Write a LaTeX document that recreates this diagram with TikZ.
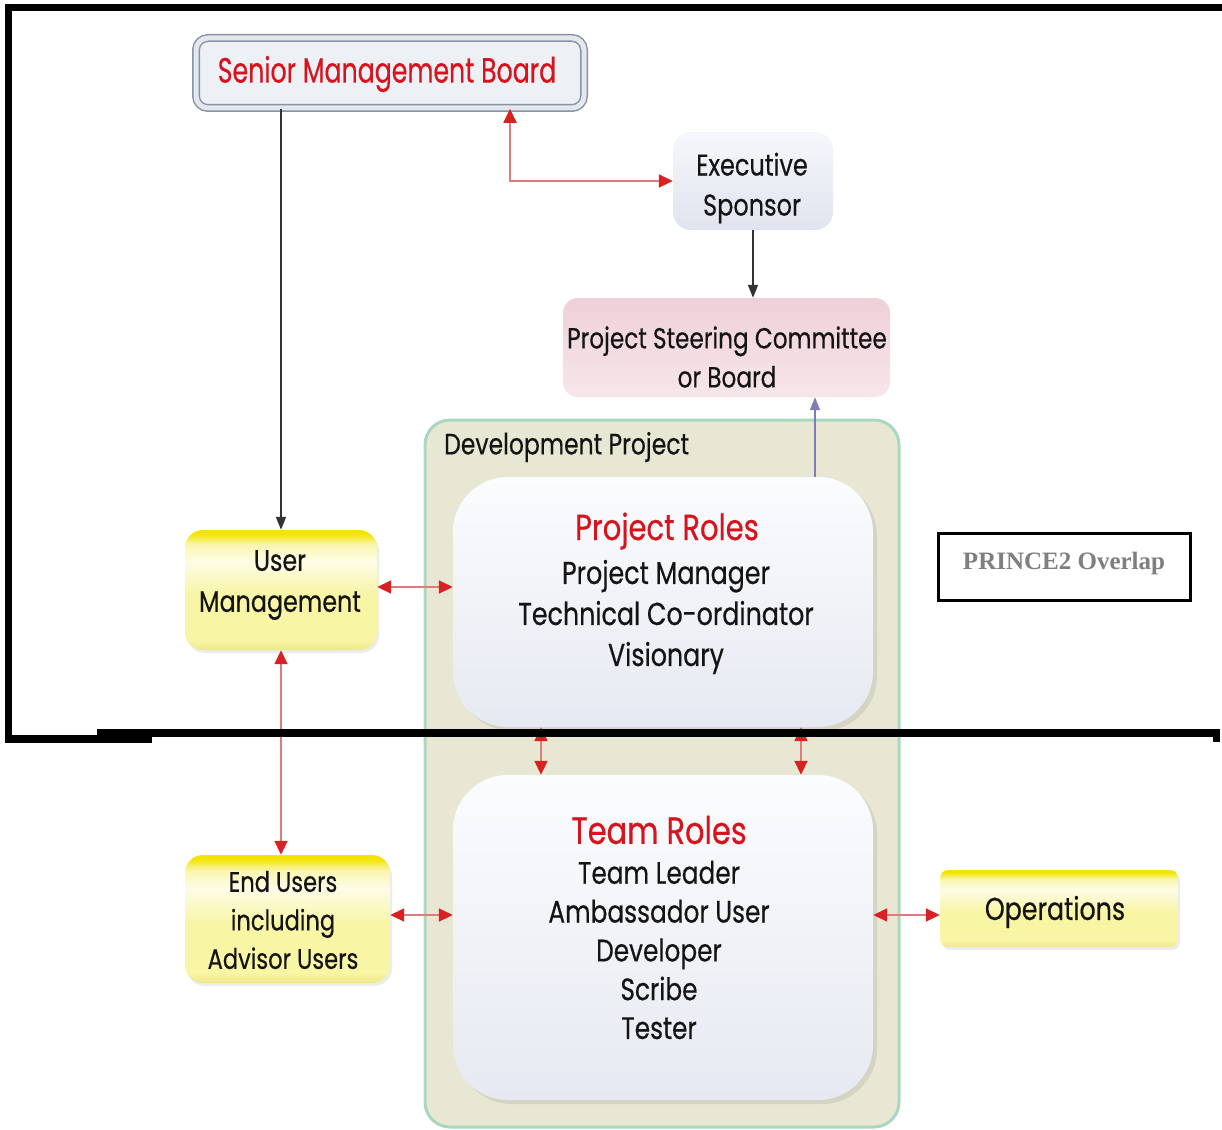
\documentclass[tikz,border=0pt]{standalone}
\usepackage{fontspec}
\setmainfont{Poppins}[FakeBold=0.5]
\newfontfamily\prfont{Liberation Serif}
\usetikzlibrary{arrows.meta,shadows}
\definecolor{redtxt}{HTML}{D7141E}
\definecolor{redline}{HTML}{E07B7B}
\definecolor{redtip}{HTML}{D62222}
\definecolor{devfill}{HTML}{E8E7D3}
\definecolor{devline}{HTML}{A9D8BF}
\definecolor{purp}{HTML}{7F7DB5}
\definecolor{smbline}{HTML}{8A93A6}
\definecolor{smbband}{HTML}{E3E8EE}
\definecolor{smbfill}{HTML}{EDF1F5}
\definecolor{yelA}{HTML}{F3E400}
\definecolor{yelB}{HTML}{FDFCE6}
\definecolor{yelB2}{HTML}{FAF6B0}
\definecolor{yelC}{HTML}{F8F5A4}
\definecolor{yelD}{HTML}{EDE88A}
\definecolor{pinkA}{HTML}{EFD0D8}
\definecolor{pinkB}{HTML}{F6E6EA}
\definecolor{esA}{HTML}{F5F7FB}
\definecolor{esB}{HTML}{E0E4EE}
\definecolor{roleA}{HTML}{FBFCFE}
\definecolor{roleB}{HTML}{E6E9F1}
\definecolor{txtgray}{HTML}{7F7F7F}
\pgfdeclareverticalshading{yelsh}{100bp}{color(0bp)=(yelD); color(25bp)=(yelD); color(29bp)=(yelC); color(48bp)=(yelC); color(62bp)=(yelB); color(69bp)=(yelB2); color(73.5bp)=(yelA); color(100bp)=(yelA)}
\newcommand\myfs[2]{\fontsize{#1}{#2}\selectfont}
\newcommand\vs[1]{\scalebox{1}[1.25]{#1}}
\newcommand\vsb[1]{\scalebox{0.97}[1.35]{#1}}
\begin{document}
\begin{tikzpicture}[x=1pt,y=-1pt,
  txt/.style={inner sep=0pt, text=black!92, font=\myfs{24}{40}, align=center},
  yelbox/.style={rounded corners=18pt, shading=yelsh, draw=none,
     drop shadow={opacity=0.15, shadow xshift=2pt, shadow yshift=-3pt}},
  rolebox/.style={rounded corners=55pt, top color=roleA, bottom color=roleB, draw=none,
     drop shadow={opacity=0.18, shadow xshift=4pt, shadow yshift=-4pt}},
  redarr/.style={draw=redline, line width=1.8pt,
     {Triangle[length=14pt,width=13pt,color=redtip]}-{Triangle[length=14pt,width=13pt,color=redtip]}},
  blkarr/.style={draw=black!80, line width=1.5pt, -{Triangle[length=13pt,width=10pt]}},
  purarr/.style={draw=purp, line width=1.5pt, -{Triangle[length=13pt,width=10pt]}},
  framefill/.style={fill=black}
]
\useasboundingbox (0,0) rectangle (1222,1129);
\fill[white] (0,0) rectangle (1222,1129);

% Senior Management Board
\node[draw=smbline, line width=1.5pt, double=smbband, double distance=5pt, fill=smbfill,
      rounded corners=12pt, minimum width=388pt, minimum height=70pt] (smb) at (390,73) {};
\node[txt, text=redtxt, font=\myfs{26}{30}] (smbt) at (387,74) {\vsb{Senior Management Board}};

% Executive Sponsor
\node[rounded corners=18pt, top color=esA, bottom color=esB, minimum width=160pt, minimum height=98pt] (es) at (753,181) {};
\node[txt, font=\myfs{24}{40}] (est) at (752,188) {\vs{Executive}\\\vs{Sponsor}};

% Project Steering Committee
\node[rounded corners=15pt, top color=pinkA, bottom color=pinkB, minimum width=327pt, minimum height=99pt] (psc) at (726.5,347.5) {};
\node[txt, font=\myfs{23.2}{39}] (psct) at (727,357) {\vs{Project Steering Committee}\\\vs{or Board}};

% Development Project container
\node[rounded corners=25pt, fill=devfill, draw=devline, line width=3pt, minimum width=474pt, minimum height=707pt] (dev) at (662,773.5) {};
\node[txt, anchor=west, font=\myfs{23.5}{30}] (devt) at (444,447) {\vs{Development Project}};

% Project Roles
\node[rolebox, minimum width=420pt, minimum height=250pt] (pr) at (663,602) {};
\node[txt, text=redtxt, font=\myfs{29}{34}] (prt) at (667,531) {\vs{Project Roles}};
\node[txt, font=\myfs{25.3}{41}] (prl) at (666,617) {\vs{Project Manager}\\\vs{Technical Co-ordinator}\\\vs{Visionary}};

% Team Roles
\node[rolebox, minimum width=420pt, minimum height=325pt] (tr) at (663,937.5) {};
\node[txt, text=redtxt, font=\myfs{30.4}{36}] (trt) at (659,830) {\vs{Team Roles}};
\node[txt, font=\myfs{24.8}{38.8}] (trl) at (659,950) {\vs{Team Leader}\\\vs{Ambassador User}\\\vs{Developer}\\\vs{Scribe}\\\vs{Tester}};

% User Management
\node[yelbox, minimum width=192pt, minimum height=120pt] (um) at (281,590) {};
\node[txt, font=\myfs{23.8}{41}] (umt) at (280,585) {\vs{User}\\\vs{Management}};

% End Users
\node[yelbox, minimum width=205pt, minimum height=128pt] (eu) at (287.5,919) {};
\node[txt, font=\myfs{22.6}{38.5}] (eut) at (283,920) {\vs{End Users}\\\vs{including}\\\vs{Advisor Users}};

% Operations
\node[yelbox, rounded corners=8pt, minimum width=238pt, minimum height=77pt] (ops) at (1059,908.5) {};
\node[txt, font=\myfs{25.3}{30}] (opst) at (1055,912) {\vs{Operations}};

% PRINCE2 Overlap
\node[draw=black, line width=3.5pt, fill=white, minimum width=252pt, minimum height=67pt] (pov) at (1064.5,567) {};
\node[txt, text=txtgray, font=\prfont\bfseries\myfs{25}{28}] (povt) at (1064,563) {PRINCE2 Overlap};

% helper coordinates
\coordinate (xa) at (510,0);
\coordinate (xb) at (815,0);
\coordinate (xc) at (541,0);
\coordinate (xd) at (801,0);
\coordinate (ya) at (0,587);
\coordinate (yb) at (0,915);

% connectors
\draw[blkarr] (smb.south -| um.north) -- (um.north);
\draw[redarr] (smb.south -| xa) |- (es.west);
\draw[blkarr] (es.south) -- (es.south |- psc.north);
\draw[purarr] (pr.north -| xb) -- (psc.south -| xb);
\draw[redarr] (um.east |- ya) -- (pr.west |- ya);
\draw[redarr] (um.south) -- (eu.north -| um.south);
\draw[redarr] (eu.east |- yb) -- (tr.west |- yb);
\draw[redarr] (tr.east |- yb) -- (ops.west |- yb);
\draw[redarr] (pr.south -| xc) -- (tr.north -| xc);
\draw[redarr] (pr.south -| xd) -- (tr.north -| xd);

% black overlay frame
\fill[framefill] (5,4) rectangle (1222,11);
\fill[framefill] (5,4) rectangle (12,743);
\fill[framefill] (5,735) rectangle (152,743);
\fill[framefill] (97,729) rectangle (1218,737);
\fill[framefill] (1213,729) rectangle (1220,742);
\end{tikzpicture}
\end{document}
